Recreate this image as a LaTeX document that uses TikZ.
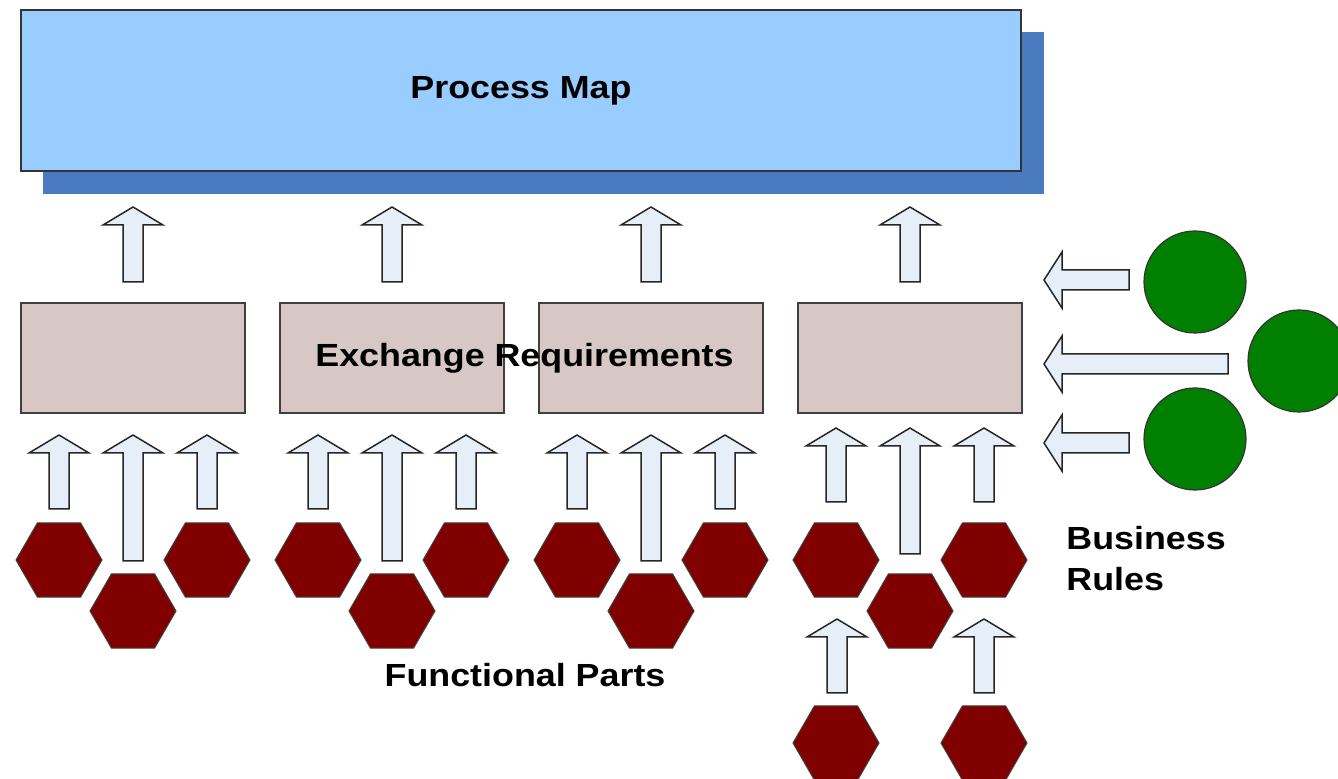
\documentclass[tikz,border=0pt]{standalone}
\usepackage{fontspec}
\setmainfont{Liberation Sans}[FakeStretch=1.12]
\usetikzlibrary{shapes.geometric}
\definecolor{mapblue}{HTML}{99CCFF}
\definecolor{mapshadow}{HTML}{4A7BC0}
\definecolor{reqfill}{HTML}{D7C8C6}
\definecolor{arrfill}{HTML}{E6EEF8}
\definecolor{partred}{HTML}{800000}
\definecolor{rulegreen}{HTML}{007F00}
\def\uparr(#1,#2,#3){\draw[blockarr] (#1-10,#3) -- (#1-10,#2+18) -- (#1-30,#2+18) -- (#1,#2) -- (#1+30,#2+18) -- (#1+10,#2+18) -- (#1+10,#3) -- cycle;}
\def\leftarr(#1,#2,#3){\draw[blockarr] (#3,#2-10) -- (#1+18,#2-10) -- (#1+18,#2-28) -- (#1,#2) -- (#1+18,#2+28) -- (#1+18,#2+10) -- (#3,#2+10) -- cycle;}
\tikzset{
  blockarr/.style={fill=arrfill, draw=black!85, line width=0.75pt, line join=miter},
  mapbox/.style={rectangle, minimum width=500pt, minimum height=80.5pt, inner sep=0pt, fill=mapblue, draw=black!80, line width=0.75pt},
  reqbox/.style={rectangle, minimum width=112pt, minimum height=55pt, inner sep=0pt, fill=reqfill, draw=black!75, line width=0.75pt},
  part/.style={regular polygon, regular polygon sides=6, minimum size=43pt, inner sep=0pt, fill=partred, draw=black!75, line width=0.5pt},
  rule/.style={circle, minimum size=51pt, inner sep=0pt, fill=rulegreen, draw=black!80, line width=0.6pt},
  title/.style={font=\bfseries\fontsize{16}{20.5}\selectfont, inner sep=0pt}
}
\begin{document}
\begin{tikzpicture}[x=0.5pt, y=-0.5pt]
			%%%%% START %%%%%
			\useasboundingbox (0,0) rectangle (1338,779);
			
			% process map with its shadow
			\fill[mapshadow] (43,32) rectangle (1044,194);
			\node[mapbox, title] (map) at (521,90.5) {Process Map};
			
			% exchange requirements
			\node[reqbox] (req1) at (133,358) {};
			\node[reqbox] (req2) at (392,358) {};
			\node[reqbox] (req3) at (651,358) {};
			\node[reqbox] (req4) at (910,358) {};
			
			% functional parts and their arrows
			\foreach \g/\cx/\dy in {1/133/0, 2/392/0, 3/651/0, 4/910/-7}{
				\uparr(\cx,207,282)
				\node[part] (part\g l) at (\cx-74,560) {};
				\node[part] (part\g r) at (\cx+74,560) {};
				\node[part] (part\g m) at (\cx,611) {};
				\uparr(\cx-74,435+\dy,509+\dy)
				\uparr(\cx+74,435+\dy,509+\dy)
				\uparr(\cx,435+\dy,561+\dy)
			}
			
			\uparr(837,619,693)
			\uparr(984,619,693)
			\node[part] (part5l) at (836,743) {};
			\node[part] (part5r) at (984,743) {};
			
			% business rules
			\node[rule] (rule1) at (1195,282) {};
			\node[rule] (rule2) at (1299,361) {};
			\node[rule] (rule3) at (1195,439) {};
			\leftarr(1044,280,1129)
			\leftarr(1044,364,1228)
			\leftarr(1044,443,1129)
			
			% labels
			\node[title, anchor=base] (reqlabel) at (524.5,367) {Exchange Requirements};
			\node[title, anchor=base] (partlabel) at (525,687) {Functional Parts};
			\node[title, anchor=north west, align=left] (rulelabel) at (1066,526) {Business\\Rules};
			
			%%%%% END %%%%%
\end{tikzpicture}
\end{document}
